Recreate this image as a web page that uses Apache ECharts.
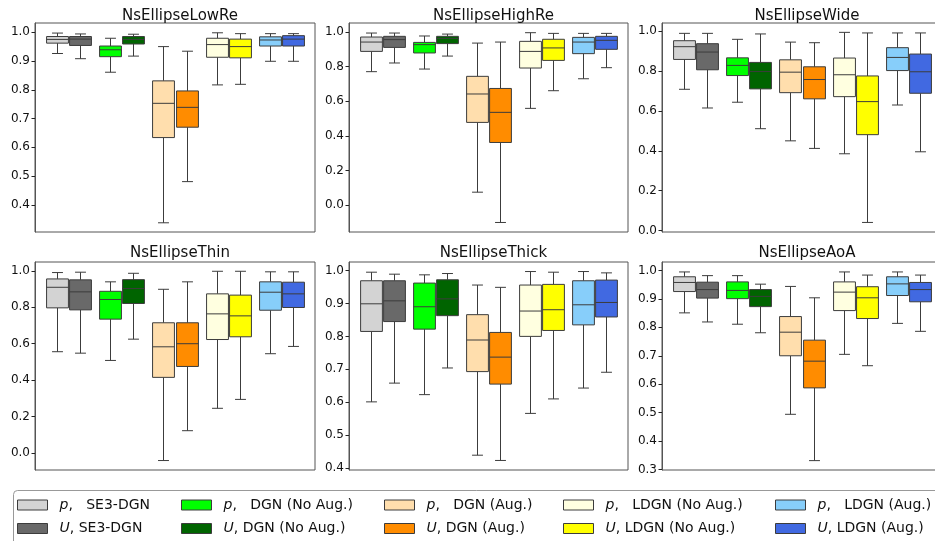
<!DOCTYPE html>
<html>
<head>
<meta charset="utf-8">
<script src="https://cdn.jsdelivr.net/npm/echarts@6/dist/echarts.min.js"></script>
<style>
  html, body { margin: 0; padding: 0; background: #fff; }
  #chart { width: 935px; height: 541px; }
</style>
</head>
<body>
<div id="chart"></div>
<script>
// panel titles
var titles = ['NsEllipseLowRe', 'NsEllipseHighRe', 'NsEllipseWide',
              'NsEllipseThin', 'NsEllipseThick', 'NsEllipseAoA'];

// methods, in pairs (p, U) per model
var methods = [
  'p,   SE3-DGN', 'U, SE3-DGN',
  'p,   DGN (No Aug.)', 'U, DGN (No Aug.)',
  'p,   DGN (Aug.)', 'U, DGN (Aug.)',
  'p,   LDGN (No Aug.)', 'U, LDGN (No Aug.)',
  'p,   LDGN (Aug.)', 'U, LDGN (Aug.)'
];
var colors = ['#d3d3d3', '#696969', '#00ff00', '#006400', '#ffdead',
              '#ff8c00', '#ffffe0', '#ffff00', '#87cefa', '#4169e1'];

// box stats per method: [min, q1, median, q3, max]
var lowRe = [
  [0.926, 0.962, 0.975, 0.985, 0.997], [0.908, 0.954, 0.976, 0.985, 0.994],
  [0.861, 0.915, 0.939, 0.952, 0.979], [0.917, 0.959, 0.975, 0.985, 0.993],
  [0.338, 0.634, 0.753, 0.831, 0.950], [0.481, 0.670, 0.739, 0.796, 0.934],
  [0.817, 0.913, 0.957, 0.979, 0.998], [0.819, 0.911, 0.950, 0.976, 0.995],
  [0.899, 0.952, 0.973, 0.984, 0.995], [0.899, 0.952, 0.976, 0.988, 0.995]
];
var highRe = [
  [0.771, 0.888, 0.942, 0.971, 0.994], [0.821, 0.911, 0.956, 0.975, 0.994],
  [0.786, 0.879, 0.927, 0.940, 0.977], [0.861, 0.933, 0.963, 0.975, 0.988],
  [0.075, 0.478, 0.642, 0.744, 0.936], [-0.100, 0.362, 0.536, 0.674, 0.942],
  [0.559, 0.792, 0.888, 0.946, 0.996], [0.661, 0.836, 0.908, 0.958, 0.992],
  [0.730, 0.875, 0.942, 0.969, 0.992], [0.794, 0.900, 0.952, 0.975, 0.992]
];
var wide = [
  [0.709, 0.859, 0.923, 0.953, 0.990], [0.615, 0.807, 0.896, 0.938, 0.990],
  [0.644, 0.778, 0.829, 0.867, 0.960], [0.511, 0.711, 0.798, 0.844, 0.987],
  [0.450, 0.692, 0.795, 0.857, 0.946], [0.412, 0.661, 0.758, 0.822, 0.943],
  [0.385, 0.672, 0.782, 0.866, 0.995], [0.040, 0.481, 0.647, 0.776, 0.992],
  [0.630, 0.803, 0.869, 0.918, 0.992], [0.395, 0.689, 0.797, 0.886, 0.992]
];
var thin = [
  [0.556, 0.797, 0.910, 0.956, 0.991], [0.548, 0.786, 0.885, 0.951, 0.993],
  [0.508, 0.735, 0.843, 0.888, 0.940], [0.625, 0.821, 0.903, 0.952, 0.987],
  [-0.042, 0.415, 0.583, 0.715, 0.899], [0.122, 0.475, 0.600, 0.715, 0.940],
  [0.245, 0.623, 0.764, 0.874, 0.998], [0.294, 0.638, 0.753, 0.867, 0.998],
  [0.545, 0.784, 0.883, 0.940, 0.995], [0.585, 0.799, 0.874, 0.938, 0.995]
];
var thick = [
  [0.601, 0.815, 0.899, 0.969, 0.995], [0.658, 0.845, 0.908, 0.969, 0.989],
  [0.623, 0.822, 0.890, 0.962, 0.987], [0.704, 0.863, 0.914, 0.972, 0.991],
  [0.439, 0.693, 0.789, 0.866, 0.956], [0.423, 0.655, 0.737, 0.812, 0.949],
  [0.566, 0.800, 0.877, 0.956, 0.997], [0.610, 0.818, 0.881, 0.958, 0.995],
  [0.643, 0.835, 0.896, 0.969, 0.997], [0.691, 0.859, 0.903, 0.971, 0.993]
];
var aoa = [
  [0.851, 0.926, 0.958, 0.978, 0.995], [0.819, 0.903, 0.933, 0.959, 0.982],
  [0.811, 0.901, 0.930, 0.960, 0.982], [0.781, 0.873, 0.909, 0.933, 0.952],
  [0.494, 0.700, 0.783, 0.838, 0.944], [0.331, 0.587, 0.681, 0.755, 0.904],
  [0.705, 0.859, 0.924, 0.960, 0.995], [0.665, 0.831, 0.904, 0.943, 0.984],
  [0.814, 0.912, 0.953, 0.978, 0.995], [0.786, 0.890, 0.933, 0.958, 0.984]
];
var panels = [lowRe, highRe, wide, thin, thick, aoa];

// y limits and tick labels per panel
var yLimits = [[0.306, 1.032], [-0.155, 1.052], [-0.008, 1.042],
               [-0.094, 1.049], [0.394, 1.026], [0.298, 1.030]];
var yTicks = [
  [0.4, 0.5, 0.6, 0.7, 0.8, 0.9, 1.0],
  [0.0, 0.2, 0.4, 0.6, 0.8, 1.0],
  [0.0, 0.2, 0.4, 0.6, 0.8, 1.0],
  [0.0, 0.2, 0.4, 0.6, 0.8, 1.0],
  [0.4, 0.5, 0.6, 0.7, 0.8, 0.9, 1.0],
  [0.3, 0.4, 0.5, 0.6, 0.7, 0.8, 0.9, 1.0]
];

var FONT = 'DejaVu Sans';
var gridLeft = [35, 349, 662];
var gridWidth = [280, 279, 280];
var gridTop = [23, 262];
var gridHeight = [209, 208];

// x axis runs 0..5.25, group g centred at g + 0.625
var boxW = 0.41, pairOff = 0.22;

function makeRender(m) {
  var g = Math.floor(m / 2);
  var xc = g + 0.625 + (m % 2 ? pairOff : -pairOff);
  return function (params, api) {
    var lo = api.coord([xc, api.value(0)]);
    var q1 = api.coord([xc, api.value(1)]);
    var md = api.coord([xc, api.value(2)]);
    var q3 = api.coord([xc, api.value(3)]);
    var hi = api.coord([xc, api.value(4)]);
    var w = api.size([boxW, 0])[0];
    var x = Math.round(lo[0]) + 0.5;
    var ln = { stroke: '#3c3c3c', lineWidth: 1 };
    return {
      type: 'group',
      children: [
        { type: 'line', shape: { x1: x, y1: lo[1], x2: x, y2: q1[1] }, style: ln },
        { type: 'line', shape: { x1: x, y1: q3[1], x2: x, y2: hi[1] }, style: ln },
        { type: 'line', shape: { x1: x - w / 4, y1: lo[1], x2: x + w / 4, y2: lo[1] }, style: ln },
        { type: 'line', shape: { x1: x - w / 4, y1: hi[1], x2: x + w / 4, y2: hi[1] }, style: ln },
        { type: 'rect', shape: { x: x - w / 2, y: q3[1], width: w, height: q1[1] - q3[1] },
          style: { fill: colors[m], stroke: '#3c3c3c', lineWidth: 1 } },
        { type: 'line', shape: { x1: x - w / 2, y1: md[1], x2: x + w / 2, y2: md[1] }, style: ln }
      ]
    };
  };
}

var grids = [], xAxes = [], yAxes = [], series = [], title = [];
panels.forEach(function (stats, p) {
  var row = Math.floor(p / 3), col = p % 3;
  grids.push({
    left: gridLeft[col], top: gridTop[row],
    width: gridWidth[col], height: gridHeight[row],
    show: true, borderColor: '#555', borderWidth: 1, backgroundColor: 'transparent',
    containLabel: false, outerBoundsMode: 'none'
  });
  xAxes.push({
    type: 'value', gridIndex: p, min: 0, max: 5.25,
    axisLine: { show: false }, axisTick: { show: false },
    axisLabel: { show: false }, splitLine: { show: false }
  });
  yAxes.push({
    type: 'value', gridIndex: p, min: yLimits[p][0], max: yLimits[p][1],
    axisLine: { show: true, lineStyle: { color: '#555' } },
    axisTick: { show: true, length: 3.5, customValues: yTicks[p], lineStyle: { color: '#222' } },
    axisLabel: {
      customValues: yTicks[p], margin: 5, color: '#111', fontSize: 12, fontFamily: FONT,
      formatter: function (v) { return v.toFixed(1); }
    },
    splitLine: { show: false }
  });
  title.push({
    text: titles[p],
    left: gridLeft[col] + gridWidth[col] / 2, textAlign: 'center',
    top: row ? 241 : 4,
    textStyle: { fontSize: 15, fontWeight: 'normal', color: '#111', fontFamily: FONT }
  });
  methods.forEach(function (name, m) {
    series.push({
      type: 'custom', name: name, xAxisIndex: p, yAxisIndex: p,
      itemStyle: { color: colors[m] },
      renderItem: makeRender(m),
      data: [stats[m]],
      silent: true, animation: false
    });
  });
});

// legend: five columns of two rows
var legendLeft = [17, 181, 384, 563, 775];
var legend = legendLeft.map(function (lx, c) {
  return {
    orient: 'vertical', left: lx, top: 498, padding: 0,
    itemWidth: 30, itemHeight: 10, itemGap: 9.5,
    selectedMode: false,
    data: [methods[2 * c], methods[2 * c + 1]].map(function (n, k) {
      return { name: n, icon: 'rect',
               itemStyle: { color: colors[2 * c + k], borderColor: '#3c3c3c', borderWidth: 1 } };
    }),
    formatter: function (n) { return '{i|' + n.charAt(0) + '}' + n.slice(1); },
    textStyle: {
      fontSize: 14, fontFamily: FONT, color: '#111', lineHeight: 14, padding: [0, 0, 0, 7],
      rich: { i: { fontStyle: 'italic', fontSize: 14, fontFamily: FONT, color: '#111', lineHeight: 14 } }
    }
  };
});

var chart = echarts.init(document.getElementById('chart'), null, { renderer: 'canvas' });
chart.setOption({
  animation: false,
  backgroundColor: '#fff',
  title: title,
  grid: grids,
  xAxis: xAxes,
  yAxis: yAxes,
  legend: legend,
  graphic: [{
    type: 'rect', z: -1,
    shape: { x: 13.5, y: 490.5, width: 940, height: 70, r: 4 },
    style: { fill: '#fff', stroke: '#999', lineWidth: 1 }
  }],
  series: series
});
</script>
</body>
</html>
